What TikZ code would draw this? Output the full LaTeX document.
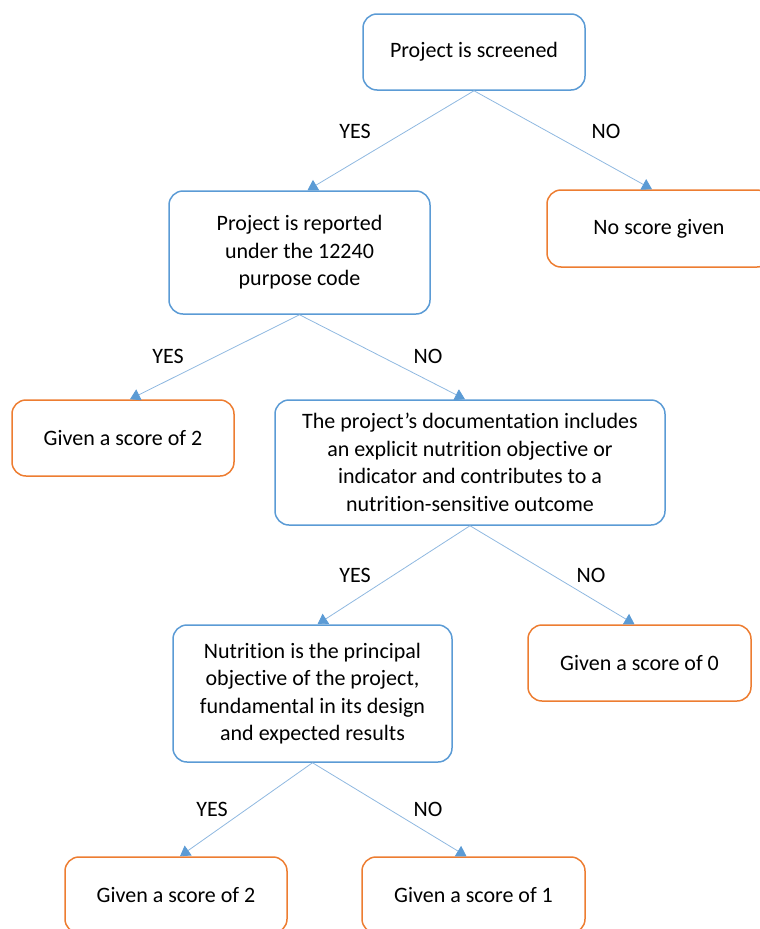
\documentclass[tikz,border=0pt]{standalone}
\usepackage{fontspec}
\setmainfont{Carlito}[Ligatures={NoCommon,NoRare}]
\usetikzlibrary{arrows.meta}
\definecolor{boxblue}{HTML}{5B9BD5}
\definecolor{boxorange}{HTML}{ED7D31}
\definecolor{lineblue}{HTML}{8FB8E0}
\tikzset{
  qbox/.style={draw=boxblue, line width=1.5pt, rounded corners=14pt, align=center, inner sep=0pt},
  abox/.style={draw=boxorange, line width=1.5pt, rounded corners=14pt, align=center, inner sep=0pt},
  flow/.style={draw=lineblue, line width=0.8pt, -{Triangle[width=12pt,length=10pt,color=boxblue,fill=boxblue]}},
  ans/.style={inner sep=0pt}
}
\begin{document}
\begin{tikzpicture}[x=1pt,y=-1pt,font=\fontsize{22}{27.5}\selectfont]
	\useasboundingbox (0,0) rectangle (760,929);
	\clip (0,0) rectangle (760,929);
	% questions
	\node[qbox, minimum width=222pt, minimum height=76pt] (screen) at (474,52) {Project is screened};
	\node[qbox, minimum width=261pt, minimum height=123pt] (report) at (299.5,252.5) {Project is reported\\under the 12240\\purpose code};
	\node[qbox, minimum width=390pt, minimum height=125pt] (docs) at (470,462.5) {The project’s documentation includes\\an explicit nutrition objective or\\indicator and contributes to a\\nutrition-sensitive outcome};
	\node[qbox, minimum width=279pt, minimum height=137pt] (principal) at (312.5,693.5) {Nutrition is the principal\\objective of the project,\\fundamental in its design\\and expected results};
	% outcomes
	\node[abox, minimum width=224pt, minimum height=77pt] (noscore) at (659,228.5) {No score given};
	\node[abox, minimum width=222pt, minimum height=76pt] (scoreA) at (123,438) {Given a score of 2};
	\node[abox, minimum width=223pt, minimum height=76pt] (scoreZero) at (639.5,663) {Given a score of 0};
	\node[abox, minimum width=222pt, minimum height=76pt] (scoreB) at (176,895) {Given a score of 2};
	\node[abox, minimum width=223pt, minimum height=76pt] (scoreOne) at (473.5,895) {Given a score of 1};
	% connectors
	\draw[flow] (screen.south) -- ([xshift=8pt]report.north);
	\draw[flow] (screen.south) -- ([xshift=-7pt]noscore.north);
	\draw[flow] (report.south) -- ([xshift=7pt]scoreA.north);
	\draw[flow] (report.south) -- ([xshift=-5pt]docs.north);
	\draw[flow] (docs.south) -- ([xshift=5pt]principal.north);
	\draw[flow] (docs.south) -- ([xshift=-5pt]scoreZero.north);
	\draw[flow] (principal.south) -- ([xshift=4pt]scoreB.north);
	\draw[flow] (principal.south) -- ([xshift=-7pt]scoreOne.north);
	% labels
	\node[ans] (yesA) at (355,131) {YES};
	\node[ans] (noA) at (606,131) {NO};
	\node[ans] (yesB) at (168,356) {YES};
	\node[ans] (noB) at (428,356) {NO};
	\node[ans] (yesC) at (355,575) {YES};
	\node[ans] (noC) at (591,575) {NO};
	\node[ans] (yesD) at (212,809) {YES};
	\node[ans] (noD) at (428,809) {NO};
\end{tikzpicture}
\end{document}
